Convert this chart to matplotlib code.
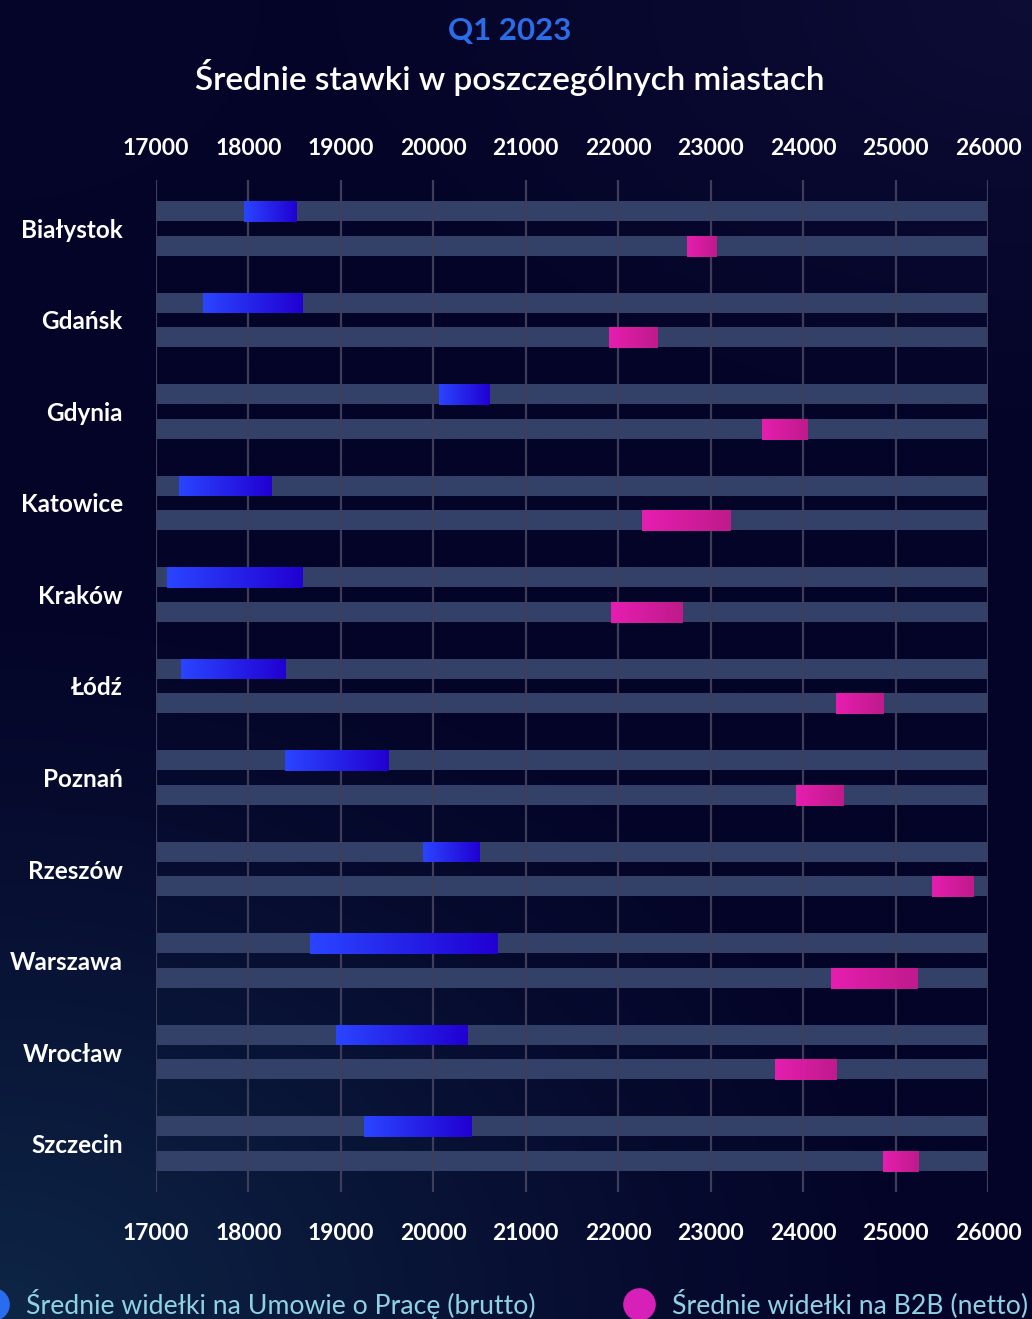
import numpy as np
import matplotlib.pyplot as plt
from matplotlib.colors import LinearSegmentedColormap
from matplotlib.lines import Line2D

plt.rcParams['font.family'] = ['Lato', 'DejaVu Sans']

# data: average salary ranges per city (PLN)
cities = ['Białystok', 'Gdańsk', 'Gdynia', 'Katowice', 'Kraków', 'Łódź',
          'Poznań', 'Rzeszów', 'Warszawa', 'Wrocław', 'Szczecin']
uop_min = [17950, 17510, 20060, 17250, 17120, 17270, 18400, 19890, 18670, 18950, 19250]
uop_max = [18520, 18590, 20610, 18250, 18590, 18400, 19520, 20500, 20700, 20370, 20410]
b2b_min = [22740, 21900, 23550, 22260, 21920, 24360, 23920, 25390, 24300, 23700, 24860]
b2b_max = [23060, 22430, 24040, 23220, 22690, 24870, 24430, 25840, 25240, 24370, 25240]
x_ticks = [17000, 18000, 19000, 20000, 21000, 22000, 23000, 24000, 25000, 26000]
x_lo, x_hi = 17000, 26000

W, H = 1032, 1319
fig = plt.figure(figsize=(W / 100, H / 100), dpi=100)

# background gradient
bg = fig.add_axes([0, 0, 1, 1], zorder=-10)
gx, gy = np.meshgrid(np.linspace(0, 1, 200), np.linspace(0, 1, 260))
base = np.array([4, 4, 40]) / 255.
glow_bl = np.array([14, 38, 70]) / 255.
glow_tr = np.array([18, 18, 62]) / 255.
w_bl = np.clip(1 - np.sqrt((gx / 0.9) ** 2 + ((1 - gy) / 0.55) ** 2), 0, 1) ** 1.2
w_tr = np.clip(1 - np.sqrt(((1 - gx) / 0.7) ** 2 + (gy / 0.35) ** 2), 0, 1)
w_tl = np.clip(1 - np.sqrt((gx / 0.5) ** 2 + (gy / 0.3) ** 2), 0, 1) * 0.5
img = base[None, None, :] * (1 - w_bl[..., None] - w_tr[..., None] * 0.6 - w_tl[..., None] * 0.5) \
    + glow_bl[None, None, :] * w_bl[..., None] \
    + glow_tr[None, None, :] * w_tr[..., None] * 0.6 \
    + np.array([12, 12, 50])[None, None, :] / 255. * w_tl[..., None] * 0.5
bg.imshow(np.clip(img, 0, 1), aspect='auto', extent=[0, 1, 0, 1], origin='upper',
          interpolation='bicubic')
bg.set_axis_off()

ax = fig.add_axes([156 / W, 1 - 1192 / H, 832 / W, 1012 / H])
ax.set_facecolor('none')

ypos = np.arange(len(cities))
off = 0.19
track_h = 0.219
bar_h = 0.226

ax.barh(ypos - off, x_hi - x_lo, left=x_lo, height=track_h, color='#334068', zorder=1)
ax.barh(ypos + off, x_hi - x_lo, left=x_lo, height=track_h, color='#334068', zorder=1)

blue_cmap = LinearSegmentedColormap.from_list('blue', ['#2a45ff', '#2100d2'])
pink_cmap = LinearSegmentedColormap.from_list('pink', ['#e61eb0', '#bf1a8b'])
grad = np.linspace(0, 1, 256).reshape(1, -1)

uop_bars = ax.barh(ypos - off + 0.004, np.subtract(uop_max, uop_min), left=uop_min,
                   height=bar_h, color='#2422e8', zorder=3)
b2b_bars = ax.barh(ypos + off + 0.004, np.subtract(b2b_max, b2b_min), left=b2b_min,
                   height=bar_h, color='#d41c9e', zorder=3)

for bars, cmap in [(uop_bars, blue_cmap), (b2b_bars, pink_cmap)]:
    for p in bars:
        x0, y0 = p.get_x(), p.get_y()
        im = ax.imshow(grad, cmap=cmap, aspect='auto', zorder=4,
                       extent=[x0, x0 + p.get_width(), y0 + p.get_height(), y0])
        im.set_clip_path(p)

ax.set_xlim(x_lo, x_hi)
ax.set_ylim(10.529, -0.529)

ax.set_xticks(x_ticks)
ax.set_axisbelow('line')
ax.grid(axis='x', color='#3e3e5a', lw=1.6)
ax.grid(axis='y', visible=False)
for s in ax.spines.values():
    s.set_visible(False)

ax.tick_params(axis='x', length=0, pad=22, labelsize=16.5, labelcolor='white')
for lbl in ax.get_xticklabels():
    lbl.set_fontweight('bold')

top = ax.secondary_xaxis('top')
top.set_xticks(x_ticks)
top.tick_params(length=0, pad=15, labelsize=16.5, labelcolor='white')
for lbl in top.get_xticklabels():
    lbl.set_fontweight('bold')
for s in top.spines.values():
    s.set_visible(False)

ax.set_yticks(ypos, cities)
ax.tick_params(axis='y', length=0, pad=24, labelsize=17.5, labelcolor='white')
for lbl in ax.get_yticklabels():
    lbl.set_fontweight('bold')

# titles
fig.text(510 / W, 1 - 31 / H, 'Q1 2023', ha='center', va='center',
         fontsize=22.5, fontweight='bold', color='#2b6de8')
fig.text(510 / W, 1 - 77 / H, 'Średnie stawki w poszczególnych miastach',
         ha='center', va='center', fontsize=24, fontweight='semibold', color='white')

# legend
leg_y = 1 - 1304 / H
fig.add_artist(Line2D([-7 / W], [leg_y], marker='o', markersize=22.5, color='#2a6cf0',
                      transform=fig.transFigure, linestyle='none'))
fig.add_artist(Line2D([639 / W], [leg_y], marker='o', markersize=22.5, color='#d620b8',
                      transform=fig.transFigure, linestyle='none'))
fig.text(26 / W, leg_y, 'Średnie widełki na Umowie o Pracę (brutto)', ha='left', va='center',
         fontsize=19.2, fontweight='normal', color='#8fd2e6')
fig.text(672 / W, leg_y, 'Średnie widełki na B2B (netto)', ha='left', va='center',
         fontsize=19.2, fontweight='normal', color='#8fd2e6')

fig.savefig('out.png', dpi=100)
